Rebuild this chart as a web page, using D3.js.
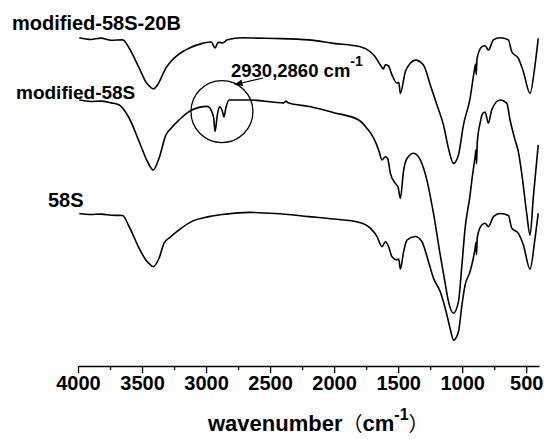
<!DOCTYPE html>
<html>
<head>
<meta charset="utf-8">
<script src="https://cdn.jsdelivr.net/npm/d3@7"></script>
<style>
body { margin: 0; background: #fff; }
svg text { font-family: "Liberation Sans", Arial, sans-serif; font-weight: bold; fill: #000; }
</style>
</head>
<body>
<div id="chart"></div>
<script>
/* global d3 */
// FTIR spectra, [wavenumber, transmittance (a.u., offset)]
var spec58S20B = [
  [3990, 93.5], [3900, 93.0], [3821, 93.4], [3740, 92.8], [3652, 92.9], [3600, 90.5], [3522, 84.8],
  [3470, 80.9], [3440, 79.6], [3413, 78.9], [3379, 80], [3340, 82.9], [3314, 84.8], [3275, 86.7],
  [3236, 88.1], [3184, 89.5], [3133, 90.5], [3028, 91.9], [2960, 92.3], [2930, 90.6], [2905, 92.2],
  [2870, 92.0], [2834, 92.9], [2717, 93.5], [2600, 93.4], [2457, 93.3], [2198, 92.9], [2005, 91.9],
  [1795, 90.9], [1717, 89.5], [1678, 88], [1639, 85.7], [1615, 84.6], [1600, 85.8], [1577, 85.5],
  [1548, 82.9], [1509, 80.5], [1495, 80.8], [1483, 77.6], [1444, 83.8], [1405, 86.2], [1366, 87.1],
  [1302, 85.7], [1249, 80], [1197, 74.3], [1146, 68.6], [1107, 61.9], [1068, 57.6], [1029, 60],
  [990, 68.6], [938, 76.2], [907, 83.7], [895, 86.0], [890, 83.0], [884, 87.5], [847, 90.9],
  [821, 91.2], [795, 90], [756, 92.9], [704, 93.5], [639, 92.9], [613, 89.5], [561, 87.6],
  [522, 83.8], [470, 77.6], [431, 85.7], [406, 93.3]
];

var spec58Smod = [
  [3990, 75.7], [3900, 75.3], [3821, 75.4], [3740, 74.9], [3678, 74.3], [3600, 70.5], [3522, 63.8],
  [3457, 58.1], [3413, 55.7], [3367, 59.1], [3314, 65.7], [3275, 67.6], [3211, 70], [3133, 72.4],
  [3055, 73.6], [2989, 73.9], [2950, 71.9], [2940, 70.5], [2930, 66.7], [2912, 71.4], [2895, 73.8],
  [2875, 72.8], [2860, 70.9], [2845, 73.5], [2820, 75.7], [2652, 75.7], [2393, 74.9], [2375, 75.4],
  [2360, 74.9], [2184, 73.8], [2003, 72.1], [1808, 70], [1743, 67.6], [1691, 64.8], [1652, 61.4],
  [1626, 58.6], [1600, 59.5], [1582, 59], [1561, 54.8], [1522, 51.9], [1501, 50.9], [1483, 47.6],
  [1457, 55.7], [1431, 59], [1379, 60.5], [1327, 58.6], [1276, 52.9], [1224, 43.3], [1171, 31.4],
  [1133, 23.4], [1107, 18.1], [1068, 14.8], [1029, 18.1], [1002, 28.6], [977, 39.1], [938, 48.6],
  [924, 52.9], [899, 59.5], [892, 61.5], [888, 57.5], [882, 63.5], [860, 69.1], [839, 71.9],
  [821, 72.3], [795, 69.1], [769, 72.9], [704, 75.7], [652, 74.8], [626, 70], [587, 64.3],
  [561, 60.9], [535, 54.8], [496, 43.3], [470, 37.1], [444, 48.1], [406, 62.9]
];

var spec58S = [
  [3990, 43.3], [3900, 43.0], [3821, 43.1], [3740, 42.8], [3652, 42.7], [3600, 39.5], [3522, 33.3],
  [3470, 30], [3440, 28.8], [3413, 28.1], [3367, 30.5], [3328, 34.8], [3275, 36.7], [3211, 38.6],
  [3106, 41.1], [2977, 42.4], [2847, 43.1], [2665, 43.6], [2457, 43.3], [2198, 42.4], [2003, 41.7],
  [1808, 40.8], [1717, 39.1], [1665, 36.7], [1626, 33.8], [1600, 35.2], [1574, 33.8], [1548, 30.9],
  [1509, 30], [1495, 30.3], [1483, 27.4], [1457, 32.4], [1431, 35.7], [1366, 36.7], [1314, 35.2],
  [1263, 29.5], [1224, 24.8], [1171, 20.9], [1119, 14.3], [1090, 9.8], [1068, 7.1], [1029, 9.5],
  [1002, 17.1], [977, 22.9], [938, 26.7], [899, 33.3], [892, 35.0], [888, 31.5], [882, 36.5],
  [847, 40], [821, 40.5], [795, 39.5], [756, 42.4], [704, 43.3], [639, 42.7], [613, 39.1],
  [561, 37.6], [522, 34.3], [470, 27.4], [431, 36.2], [406, 43.3]
];

var seriesNames = ["modified-58S-20B", "modified-58S", "58S"];
var majorTicks = [4000, 3500, 3000, 2500, 2000, 1500, 1000, 500];
var minorTicks = [3750, 3250, 2750, 2250, 1750, 1250, 750];
var peakNote = "2930,2860 cm";
var peakCircle = [2876, 72.4];

var width = 544;
var height = 439;

var x = d3.scaleLinear().domain([4000, 400]).range([78, 539]);
var y = d3.scaleLinear().domain([0, 100]).range([365, 15]);

var svg = d3.select("#chart")
    .append("svg")
    .attr("width", width)
    .attr("height", height);

var line = d3.line()
    .x(d => x(d[0]))
    .y(d => y(d[1]))
    .curve(d3.curveMonotoneX);

svg.append("g")
    .selectAll("path")
    .data([spec58S20B, spec58Smod, spec58S])
    .join("path")
    .attr("d", line)
    .attr("fill", "none")
    .attr("stroke", "#000")
    .attr("stroke-width", 1.6)
    .attr("stroke-linejoin", "round");

// bottom axis
var axisY = 366;
var gx = svg.append("g")
    .attr("transform", "translate(0," + axisY + ")")
    .call(d3.axisBottom(x).tickValues(majorTicks).tickSize(7).tickSizeOuter(0).tickFormat(d3.format("d")));
gx.select(".domain").attr("stroke-width", 1.3);
gx.selectAll(".tick line").attr("stroke-width", 1.3);
gx.selectAll(".tick text")
    .attr("font-size", 20)
    .attr("font-family", null);

var gm = svg.append("g")
    .attr("transform", "translate(0," + axisY + ")")
    .call(d3.axisBottom(x).tickValues(minorTicks).tickSize(4).tickFormat(""));
gm.select(".domain").remove();
gm.selectAll(".tick line").attr("stroke-width", 1.3);

// axis title
var title = svg.append("text")
    .attr("x", 208)
    .attr("y", 431)
    .attr("font-size", 22);
title.append("tspan").text("wavenumber");
title.append("tspan").attr("font-family", "Noto Sans CJK SC").attr("font-weight", "normal").attr("font-size", 20).text("（");
title.append("tspan").text("cm");
title.append("tspan").attr("dy", -11).attr("font-size", 16).text("-1");
title.append("tspan").attr("dy", 11).attr("font-family", "Noto Sans CJK SC").attr("font-weight", "normal").attr("font-size", 20).text("）");

// series labels
var labelPos = [[12, 30, 20], [16, 99, 19], [48, 207, 20]];
svg.append("g")
    .selectAll("text")
    .data(seriesNames)
    .join("text")
    .attr("x", (d, i) => labelPos[i][0])
    .attr("y", (d, i) => labelPos[i][1])
    .attr("font-size", (d, i) => labelPos[i][2])
    .text(d => d);

// highlight of the C-H bands
svg.append("circle")
    .attr("cx", x(peakCircle[0]))
    .attr("cy", y(peakCircle[1]))
    .attr("r", 31)
    .attr("fill", "none")
    .attr("stroke", "#000")
    .attr("stroke-width", 1.3);

svg.append("defs").append("marker")
    .attr("id", "arrow")
    .attr("viewBox", "0 0 10 10")
    .attr("refX", 9)
    .attr("refY", 5)
    .attr("markerWidth", 7)
    .attr("markerHeight", 7)
    .attr("orient", "auto")
    .append("path")
    .attr("d", "M0,1L10,5L0,9z")
    .attr("fill", "#000");

svg.append("line")
    .attr("x1", 263)
    .attr("y1", 78)
    .attr("x2", 235)
    .attr("y2", 84.5)
    .attr("stroke", "#000")
    .attr("stroke-width", 1.2)
    .attr("marker-end", "url(#arrow)");

var note = svg.append("text")
    .attr("x", 231)
    .attr("y", 77)
    .attr("font-size", 18.5);
note.append("tspan").text(peakNote);
note.append("tspan").attr("dy", -11).attr("font-size", 14).text("-1");
</script>
</body>
</html>
